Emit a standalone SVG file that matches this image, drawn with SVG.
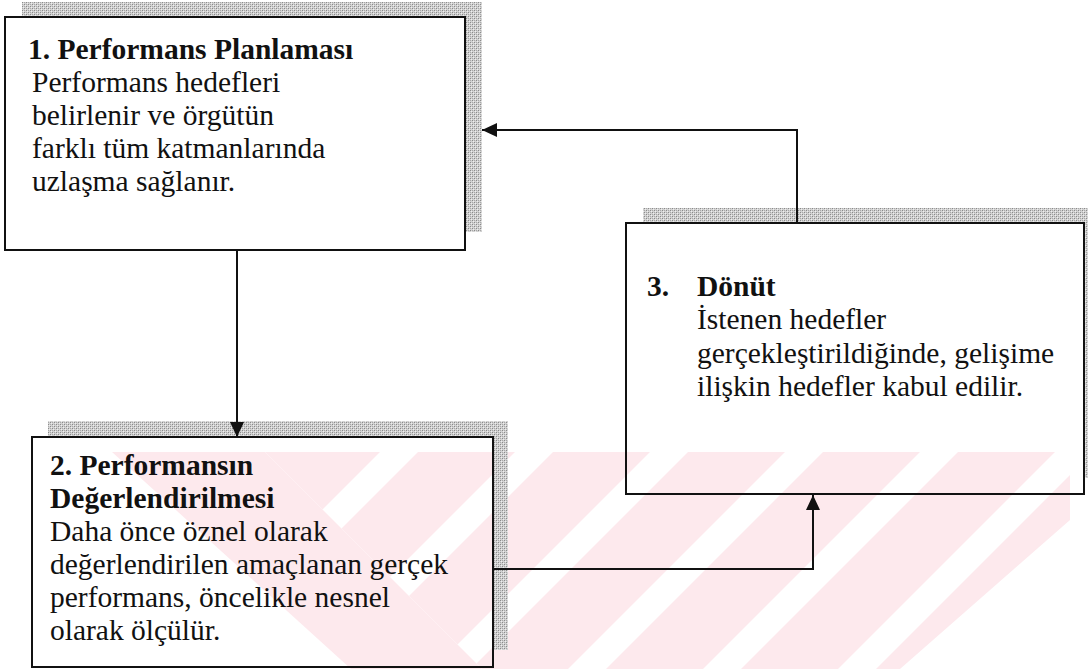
<svg xmlns="http://www.w3.org/2000/svg" width="1088" height="669" viewBox="0 0 1088 669">
  <style>
    .box { fill: none; stroke: #111; stroke-width: 2; }
    .shadow { fill: url(#hatch); }
    .conn { fill: none; stroke: #111; stroke-width: 2; }
    text { font-family: 'Liberation Serif', 'Times New Roman', Tinos, 'DejaVu Serif', serif; font-size: 29.5px; fill: #111; }
    .b { font-weight: bold; }
    .wm { fill: #fde9ed; }
    .wmw { fill: #ffffff; }
  </style>
  <defs>
    <pattern id="hatch" width="4" height="4" patternUnits="userSpaceOnUse">
      <rect width="4" height="4" fill="#d2d2d2"/>
      <rect x="0" y="0" width="1" height="1" fill="#8a8a8a"/>
      <rect x="2" y="2" width="1" height="1" fill="#8a8a8a"/>
      <rect x="2" y="0" width="1" height="1" fill="#a8a8a8"/>
      <rect x="0" y="2" width="1" height="1" fill="#a8a8a8"/>
      <rect x="1" y="1" width="1" height="1" fill="#eeeeee"/>
      <rect x="3" y="3" width="1" height="1" fill="#eeeeee"/>
    </pattern>
    <marker id="arr" markerWidth="16" markerHeight="14" refX="15" refY="7" orient="auto" markerUnits="userSpaceOnUse">
      <path d="M0,0 L15,7 L0,14 Z" fill="#111"/>
    </marker>
  </defs>

  <rect width="1088" height="669" fill="#ffffff"/>

  <g id="watermark">
    <polygon class="wm" points="265,452 1070,452 1070,520 900,669 482,669"/>
    <polygon class="wmw" points="380,452 418,452 201,669 163,669"/>
    <polygon class="wmw" points="515,452 553,452 336,669 298,669"/>
    <polygon class="wmw" points="650,452 688,452 471,669 433,669"/>
    <polygon class="wmw" points="785,452 823,452 606,669 568,669"/>
    <polygon class="wmw" points="920,452 958,452 741,669 703,669"/>
    <polygon class="wmw" points="1055,452 1093,452 876,669 838,669"/>
    <polygon class="wm" points="112,452 265,452 482,669 351,669"/>
  </g>

  <g id="node-1">
    <polygon class="shadow" points="22,2 482,2 482,232 465,232 465,17 22,17"/>
    <rect class="box" x="5" y="17" width="460" height="233"/>
    <text class="b" x="28" y="59" font-family="Liberation Serif, serif">1. Performans Planlaması</text>
    <text x="32" y="92" font-family="Liberation Serif, serif">Performans hedefleri</text>
    <text x="32" y="125" font-family="Liberation Serif, serif">belirlenir ve örgütün</text>
    <text x="32" y="158" font-family="Liberation Serif, serif">farklı tüm katmanlarında</text>
    <text x="32" y="191" font-family="Liberation Serif, serif">uzlaşma sağlanır.</text>
  </g>

  <g id="node-2">
    <polygon class="shadow" points="48,421 508,421 508,650 493,650 493,437 48,437"/>
    <rect class="box" x="32" y="437" width="461" height="230"/>
    <text class="b" x="50" y="475" font-family="Liberation Serif, serif">2. Performansın</text>
    <text class="b" x="50" y="508" font-family="Liberation Serif, serif">Değerlendirilmesi</text>
    <text x="50" y="541" font-family="Liberation Serif, serif">Daha önce öznel olarak</text>
    <text x="50" y="574" font-family="Liberation Serif, serif">değerlendirilen amaçlanan gerçek</text>
    <text x="50" y="607" font-family="Liberation Serif, serif">performans, öncelikle nesnel</text>
    <text x="50" y="640" font-family="Liberation Serif, serif">olarak ölçülür.</text>
  </g>

  <g id="node-3">
    <polygon class="shadow" points="643,208 1088,208 1088,478 1084,478 1084,223 643,223"/>
    <rect class="box" x="626" y="223" width="458" height="271"/>
    <text class="b" x="647" y="296" font-family="Liberation Serif, serif">3.</text>
    <text class="b" x="697" y="296" font-family="Liberation Serif, serif">Dönüt</text>
    <text x="697" y="329" font-family="Liberation Serif, serif">İstenen hedefler</text>
    <text x="697" y="363" font-family="Liberation Serif, serif">gerçekleştirildiğinde, gelişime</text>
    <text x="697" y="396" font-family="Liberation Serif, serif">ilişkin hedefler kabul edilir.</text>
  </g>

  <g id="connectors">
    <polyline class="conn" points="237,250 237,437" marker-end="url(#arr)"/>
    <polyline class="conn" points="493,569 813,569 813,495" marker-end="url(#arr)"/>
    <polyline class="conn" points="797,223 797,130 482,130" marker-end="url(#arr)"/>
  </g>
</svg>
